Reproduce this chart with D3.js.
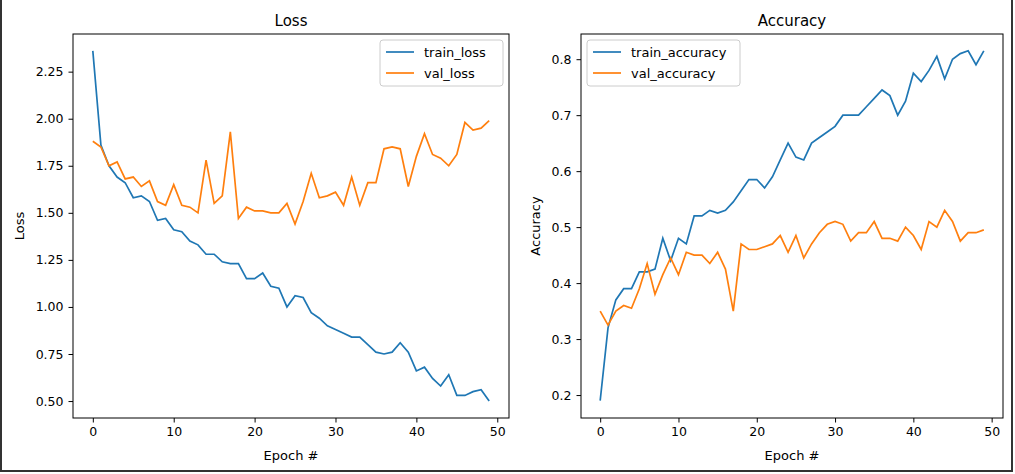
<!DOCTYPE html>
<html><head><meta charset="utf-8">
<script src="https://cdn.jsdelivr.net/npm/d3@7"></script>
<style>body{margin:0;background:#fff}svg{display:block}text{font-family:"DejaVu Sans",sans-serif}</style>
</head><body><svg id="c" width="1015" height="474"></svg>
<script>
const epochs = d3.range(50);
const trainLoss = [2.36,1.86,1.75,1.69,1.66,1.58,1.59,1.56,1.46,1.47,1.41,1.40,1.35,1.33,1.28,1.28,1.24,1.23,1.23,1.15,1.15,1.18,1.11,1.10,1.00,1.06,1.05,0.97,0.94,0.90,0.88,0.86,0.84,0.84,0.80,0.76,0.75,0.76,0.81,0.76,0.66,0.68,0.62,0.58,0.64,0.53,0.53,0.55,0.56,0.50];
const valLoss = [1.88,1.85,1.75,1.77,1.68,1.69,1.64,1.67,1.56,1.54,1.65,1.54,1.53,1.50,1.78,1.55,1.59,1.93,1.47,1.53,1.51,1.51,1.50,1.50,1.55,1.44,1.56,1.71,1.58,1.59,1.61,1.54,1.69,1.54,1.66,1.66,1.84,1.85,1.84,1.64,1.80,1.92,1.81,1.79,1.75,1.81,1.98,1.94,1.95,1.99];
const trainAcc = [0.19,0.32,0.37,0.39,0.39,0.42,0.42,0.425,0.48,0.44,0.48,0.47,0.52,0.52,0.53,0.525,0.53,0.545,0.565,0.585,0.585,0.57,0.59,0.62,0.65,0.625,0.62,0.65,0.66,0.67,0.68,0.70,0.70,0.70,0.715,0.73,0.745,0.735,0.70,0.725,0.775,0.76,0.78,0.805,0.765,0.80,0.81,0.815,0.79,0.815];
const valAcc = [0.35,0.325,0.35,0.36,0.355,0.39,0.435,0.38,0.415,0.445,0.415,0.455,0.45,0.45,0.435,0.455,0.425,0.35,0.47,0.46,0.46,0.465,0.47,0.485,0.455,0.485,0.445,0.47,0.49,0.505,0.51,0.505,0.475,0.49,0.49,0.51,0.48,0.48,0.475,0.50,0.485,0.46,0.51,0.50,0.53,0.51,0.475,0.49,0.49,0.495];
const xTicks = [0,10,20,30,40,50];
const lossTicks = [0.50,0.75,1.00,1.25,1.50,1.75,2.00,2.25];
const accTicks = [0.2,0.3,0.4,0.5,0.6,0.7,0.8];
const C1="#1f77b4", C2="#ff7f0e";
const svg = d3.select("#c");
svg.append("rect").attr("x",1).attr("y",-2).attr("width",1011).attr("height",473).attr("fill","none").attr("stroke","#333").attr("stroke-width",2);

function panel(o){
  const {L,R,T,B,yDom,yTicks,fmt,series,title,ylab,legendLeft,lw,ylx} = o;
  const x = d3.scaleLinear().domain([-2.45,51.45]).range([L,R]);
  const y = d3.scaleLinear().domain(yDom).range([B,T]);
  const g = svg.append("g");
  const line = d3.line().x((d,i)=>x(i)).y(d=>y(d));
  series.forEach(s=>g.append("path").datum(s.v).attr("d",line).attr("fill","none").attr("stroke",s.c).attr("stroke-width",1.7));
  g.append("g").attr("transform",`translate(0,${B})`).call(d3.axisBottom(x).tickValues(xTicks).tickSize(4.5).tickPadding(5))
   .call(a=>{a.select(".domain").remove();a.selectAll("text").attr("font-size",12.5).attr("fill","#000");});
  g.append("g").attr("transform",`translate(${L},0)`).call(d3.axisLeft(y).tickValues(yTicks).tickFormat(fmt).tickSize(4.5).tickPadding(5))
   .call(a=>{a.select(".domain").remove();a.selectAll("text").attr("font-size",12.5).attr("fill","#000");});
  g.append("rect").attr("x",L).attr("y",T).attr("width",R-L).attr("height",B-T).attr("fill","none").attr("stroke","#000").attr("stroke-width",1);
  g.append("text").attr("x",(L+R)/2).attr("y",T-8).attr("text-anchor","middle").attr("font-size",15).text(title);
  g.append("text").attr("x",(L+R)/2).attr("y",B+42).attr("text-anchor","middle").attr("font-size",13).text("Epoch #");
  g.append("text").attr("transform",`translate(${ylx},${(T+B)/2}) rotate(-90)`).attr("text-anchor","middle").attr("font-size",13).text(ylab);
  const lx = legendLeft ? L+6 : R-6-lw;
  const lg = g.append("g").attr("transform",`translate(${lx},${T+6})`);
  lg.append("rect").attr("width",lw).attr("height",46).attr("rx",3).attr("fill","#fff").attr("fill-opacity",0.8).attr("stroke","#ccc");
  series.forEach((s,i)=>{
    lg.append("line").attr("x1",6).attr("x2",34).attr("y1",12+i*21).attr("y2",12+i*21).attr("stroke",s.c).attr("stroke-width",1.7);
    lg.append("text").attr("x",44).attr("y",17+i*21).attr("font-size",13).text(s.n);
  });
}
panel({L:73,R:509,T:34,B:418,yDom:[0.41,2.45],yTicks:lossTicks,fmt:d3.format(".2f"),title:"Loss",ylab:"Loss",legendLeft:false,lw:123,ylx:24,
  series:[{v:trainLoss,c:C1,n:"train_loss"},{v:valLoss,c:C2,n:"val_loss"}]});
panel({L:581,R:1003,T:34,B:418,yDom:[0.159,0.845],yTicks:accTicks,fmt:d3.format(".1f"),title:"Accuracy",ylab:"Accuracy",legendLeft:true,lw:153,ylx:540,
  series:[{v:trainAcc,c:C1,n:"train_accuracy"},{v:valAcc,c:C2,n:"val_accuracy"}]});
</script></body></html>
